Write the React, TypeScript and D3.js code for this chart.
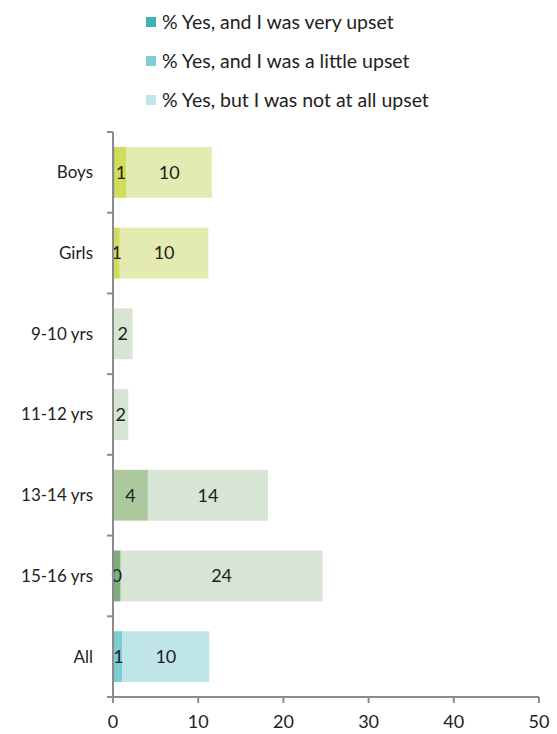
import React from "react";
import * as d3 from "d3";

const categories = ["Boys", "Girls", "9-10 yrs", "11-12 yrs", "13-14 yrs", "15-16 yrs", "All"];
const seriesNames = ["% Yes, and I was very upset", "% Yes, and I was a little upset", "% Yes, but I was not at all upset"];
const veryUpset = [0.3, 0.1, 0, 0, 0, 0.9, 0.2];
const littleUpset = [1.3, 0.7, 0, 0, 4.1, 0, 0.9];
const notUpset = [10.0, 10.4, 2.3, 1.8, 14.1, 23.7, 10.2];
const veryLabels = ["", "", "", "", "", "0", ""];
const littleLabels = ["1", "1", "", "", "4", "", "1"];
const notLabels = ["10", "10", "2", "2", "14", "24", "10"];
const xTicks = [0, 10, 20, 30, 40, 50];

// palettes per category group: [very, little, not]
const yellowGreen = ["#b5d13a", "#d2dc5c", "#e4ebb0"];
const green = ["#7fad7e", "#acc99d", "#d8e4d4"];
const teal = ["#3bb3b6", "#7ecfcf", "#c0e5e8"];
const legendColors = teal;
const palettes = [yellowGreen, yellowGreen, green, green, green, green, teal];

const FONT = "Lato, 'Open Sans', sans-serif";

export default function App() {
  const W = 557, H = 734;
  const x0 = 113, x1 = 539, yTop = 132, yBot = 697;
  const x = d3.scaleLinear().domain([0, 50]).range([x0, x1]);
  const y = d3.scaleBand<string>().domain(categories).range([yTop, yBot]).paddingInner(0.37).paddingOuter(0.185);
  const band = (yBot - yTop) / categories.length;
  const series = [veryUpset, littleUpset, notUpset];
  const labels = [veryLabels, littleLabels, notLabels];

  return (
    <svg width={W} height={H} style={{ position: "absolute", left: 0, top: 0, fontFamily: FONT }}>
      {/* legend */}
      {seriesNames.map((s, i) => (
        <g key={s} transform={`translate(146, ${22 + i * 39})`}>
          <rect x={0} y={-5} width={10} height={10} fill={legendColors[i]} />
          <text x={16} y={0} dy="0.35em" fontSize={19.5} fill="#222">{s}</text>
        </g>
      ))}
      {/* bars */}
      {categories.map((c, ci) => {
        let acc = 0;
        const by = y(c)!;
        const bh = y.bandwidth();
        return (
          <g key={c}>
            {series.map((ser, si) => {
              const v = ser[ci];
              const start = acc;
              acc += v;
              if (v <= 0) return null;
              return (
                <rect key={si} x={x(start)} y={by} width={x(start + v) - x(start)} height={bh} fill={palettes[ci][si]} />
              );
            })}
          </g>
        );
      })}
      {/* bar labels */}
      {categories.map((c, ci) => {
        let acc = 0;
        const cy = y(c)! + y.bandwidth() / 2;
        return (
          <g key={c + "l"}>
            {series.map((ser, si) => {
              const v = ser[ci];
              const start = acc;
              acc += v;
              const lab = labels[si][ci];
              if (!lab) return null;
              return (
                <text key={si} x={x(start + v / 2)} y={cy} dy="0.35em" textAnchor="middle" fontSize={18} fill="#222">{lab}</text>
              );
            })}
          </g>
        );
      })}
      {/* y axis */}
      <line x1={x0} x2={x0} y1={yTop} y2={yBot + 6} stroke="#8c8c8c" strokeWidth={2} />
      {d3.range(categories.length + 1).map((i) => (
        <line key={i} x1={x0 - 6} x2={x0} y1={yTop + i * band} y2={yTop + i * band} stroke="#8c8c8c" strokeWidth={2} />
      ))}
      {categories.map((c) => (
        <text key={c} x={93} y={y(c)! + y.bandwidth() / 2} dy="0.35em" textAnchor="end" fontSize={17} fill="#222">{c}</text>
      ))}
      {/* x axis */}
      <line x1={x0 - 6} x2={x1} y1={yBot} y2={yBot} stroke="#8c8c8c" strokeWidth={2} />
      {xTicks.map((t) => (
        <g key={t}>
          <line x1={x(t)} x2={x(t)} y1={yBot} y2={yBot + 6} stroke="#8c8c8c" strokeWidth={2} />
          <text x={x(t)} y={722} dy="0.35em" textAnchor="middle" fontSize={18} fill="#222">{t}</text>
        </g>
      ))}
    </svg>
  );
}
